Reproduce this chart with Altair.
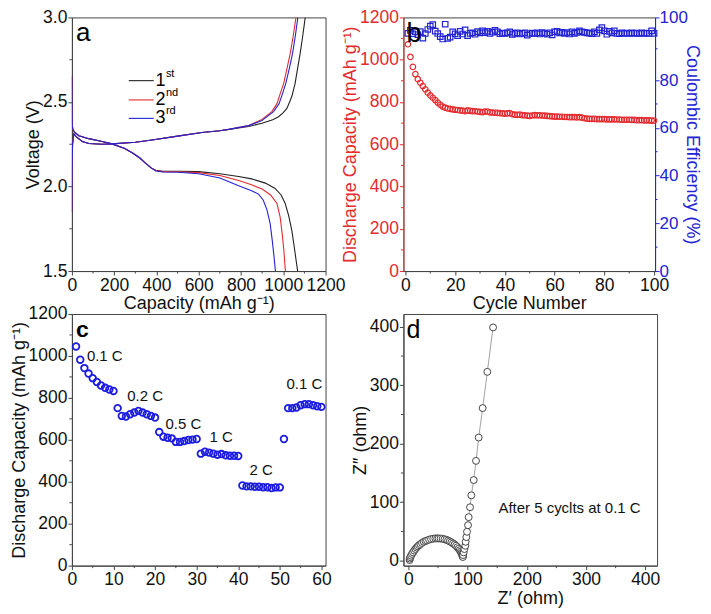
import altair as alt
import pandas as pd

FONT = "Liberation Sans"
BLACK = "#222222"
RED = "#e32b30"
BLUE = "#2424d4"
CBLUE = "#1c1ce0"
AXC = "#444444"

# ---------------- (a) voltage profiles ----------------
dis1_cap = [0, 0.5, 1.5, 5, 15, 33, 80, 143, 190, 250, 287, 320, 348, 375, 397, 430, 500, 600, 700, 789, 850, 915, 960, 990, 1009, 1025, 1040, 1050, 1060, 1068]
dis1_v = [2.65, 2.5, 2.36, 2.335, 2.318, 2.30, 2.283, 2.266, 2.252, 2.225, 2.198, 2.17, 2.138, 2.11, 2.096, 2.09, 2.09, 2.088, 2.075, 2.059, 2.045, 2.02, 1.99, 1.95, 1.90, 1.83, 1.744, 1.66, 1.57, 1.5]
dis2_cap = [0, 0.5, 1.5, 5, 15, 33, 80, 143, 190, 250, 287, 320, 348, 375, 397, 430, 500, 600, 700, 789, 850, 900, 940, 970, 985, 995, 1003, 1010]
dis2_v = [2.65, 2.5, 2.36, 2.335, 2.318, 2.30, 2.283, 2.266, 2.252, 2.225, 2.198, 2.17, 2.138, 2.11, 2.094, 2.088, 2.087, 2.082, 2.065, 2.035, 2.01, 1.985, 1.95, 1.90, 1.82, 1.72, 1.62, 1.5]
dis3_cap = [0, 0.5, 1.5, 5, 15, 33, 80, 143, 190, 250, 287, 320, 348, 375, 397, 430, 500, 600, 700, 789, 850, 883, 905, 923, 938, 948, 955, 963]
dis3_v = [2.65, 2.5, 2.36, 2.335, 2.318, 2.30, 2.283, 2.266, 2.252, 2.225, 2.198, 2.17, 2.138, 2.11, 2.092, 2.086, 2.084, 2.075, 2.05, 2.004, 1.975, 1.955, 1.92, 1.862, 1.78, 1.68, 1.6, 1.5]

chg1_cap = [0, 1, 3, 9, 20, 49, 80, 143, 190, 300, 379, 500, 615, 700, 742, 836, 899, 950, 978, 1000, 1017, 1030, 1041, 1056, 1068, 1080, 1092, 1104]
chg1_v = [1.85, 2.1, 2.25, 2.311, 2.295, 2.266, 2.254, 2.25, 2.252, 2.262, 2.275, 2.298, 2.319, 2.33, 2.338, 2.355, 2.374, 2.395, 2.413, 2.437, 2.462, 2.50, 2.535, 2.61, 2.70, 2.787, 2.89, 3.0]
chg2_cap = [0, 1, 3, 9, 20, 49, 80, 143, 190, 300, 379, 500, 615, 700, 742, 836, 899, 946, 970, 986, 1002, 1018, 1033, 1047, 1060]
chg2_v = [1.85, 2.1, 2.25, 2.311, 2.295, 2.266, 2.254, 2.25, 2.252, 2.262, 2.275, 2.298, 2.319, 2.33, 2.338, 2.36, 2.397, 2.443, 2.49, 2.551, 2.61, 2.70, 2.787, 2.89, 3.0]
chg3_cap = [0, 1, 3, 9, 20, 49, 80, 143, 190, 300, 379, 500, 615, 700, 742, 836, 899, 954, 980, 997, 1012, 1029, 1044, 1057, 1069]
chg3_v = [1.85, 2.1, 2.25, 2.311, 2.295, 2.266, 2.254, 2.25, 2.252, 2.262, 2.275, 2.298, 2.319, 2.33, 2.338, 2.36, 2.39, 2.443, 2.49, 2.551, 2.61, 2.70, 2.787, 2.89, 3.0]

cycle_names = ["1st", "2nd", "3rd"]
cycle_colors = [BLACK, RED, BLUE]
leg_num = ["1", "2", "3"]
leg_sup = ["st", "nd", "rd"]
leg_v = [2.626, 2.512, 2.403]

# ---------------- (b) cycling ----------------
cycles_b = list(range(1, 101))
cap_b = [1073, 1013, 966, 932, 908, 891, 875, 860, 844, 831,
         820, 809, 797, 787, 778, 773, 769, 767, 765, 763,
         762, 760, 759, 757, 760, 758, 757, 756, 755, 753,
         752, 754, 755, 751, 750, 749, 748, 747, 746, 745,
         746, 747, 742, 740, 739, 740, 738, 737, 735, 734,
         736, 738, 737, 737, 736, 735, 734, 733, 732, 731,
         731, 730, 730, 729, 729, 728, 728, 728, 727, 728,
         726, 723, 721, 720, 720, 720, 719, 719, 719, 719,
         718, 718, 718, 718, 717, 717, 716, 716, 716, 716,
         715, 715, 714, 714, 714, 713, 713, 713, 712, 712]
ce_b = [99.6, 100.8, 99.4, 100.2, 99.0, 100.3, 97.6, 99.5, 101.2, 102.6,
        103.2, 100.5, 99.5, 98.2, 97.2, 103.4, 97.5, 98.0, 100.2, 99.4,
        98.6, 100.4, 99.3, 101.0, 98.6, 99.6, 99.8, 99.2, 100.3, 99.8,
        100.6, 99.9, 100.4, 99.5, 100.1, 100.8, 100.2, 99.4, 99.7, 99.6,
        99.8, 100.2, 99.1, 99.6, 99.8, 99.3, 99.6, 99.8, 98.8, 99.5,
        99.7, 99.5, 99.8, 99.3, 99.9, 99.6, 99.2, 99.8, 98.9, 100.2,
        100.4, 99.8, 100.0, 99.5, 99.9, 99.3, 100.2, 99.6, 100.0, 100.6,
        100.2, 100.0, 99.8, 99.7, 99.4, 100.2, 99.6, 101.0, 102.0, 100.6,
        99.2, 100.4, 99.8, 100.6, 99.6, 99.4, 99.8, 99.5, 99.7, 99.5,
        99.8, 99.6, 99.7, 99.5, 99.8, 99.6, 99.7, 99.6, 100.6, 99.6]

# ---------------- (c) rate capability ----------------
cycles_c = list(range(1, 61))
cap_c = [1045, 982, 942, 916, 894, 876, 859, 848, 840, 833,
         751, 714, 711, 722, 730, 738, 730, 722, 714, 706,
         637, 615, 610, 607, 590, 590, 594, 599, 601, 604,
         534, 543, 539, 534, 529, 532, 526, 524, 524, 523,
         382, 378, 378, 376, 376, 374, 374, 370, 373, 373,
         604, 751, 751, 754, 765, 770, 770, 765, 760, 757]
rate_text = ["0.1 C", "0.2 C", "0.5 C", "1 C", "2 C", "0.1 C"]
rate_x = [3.6, 13.3, 22.5, 33.1, 42.7, 51.6]
rate_y = [999, 808, 675, 615, 457, 864]

# ---------------- (d) Nyquist ----------------
z_re = [2.0, 2.4, 3.2, 4.5, 6.0, 7.9, 9.8, 11.8, 13.8, 15.8, 18.0, 20.3, 23.0, 25.9, 28.7, 31.5, 34.9, 38.3,
        42.0, 45.6, 48.5, 51.2, 54.5, 57.9, 61.0, 64.1, 67.0, 69.8, 72.6, 75.4, 78.0, 80.5, 82.8, 84.9,
        86.7, 88.3, 89.6, 90.6, 91.3, 91.7, 92.0, 92.3, 93.4, 94.5, 96.1, 96.7, 97.9, 99.0, 100.7, 101.8,
        104.1, 106.3, 110.3, 114.2, 118.7, 125.4, 133.3, 143.0]
z_im = [1.0, 3.5, 6.0, 8.5, 11.5, 14.2, 17.2, 19.9, 22.3, 24.4, 26.5, 28.4, 30.4, 32.3, 33.6, 34.6, 35.9, 36.9,
        37.6, 38.0, 38.1, 38.0, 37.8, 37.4, 36.6, 35.7, 34.4, 32.9, 31.3, 29.5, 27.6, 25.5, 23.0, 20.4,
        17.9, 15.3, 13.0, 10.8, 9.0, 7.4, 6.2, 9.6, 14.2, 19.9, 25.5, 32.3, 40.3, 49.4, 60.7, 74.4,
        91.4, 111.8, 137.9, 170.7, 210.6, 261.0, 323.0, 399.0]

# minor tick positions
minor_a_x = [100, 300, 500, 700, 900, 1100]
minor_a_y = [1.75, 2.25, 2.75]
minor_b_x = [10, 30, 50, 70, 90]
minor_b_yl = [100, 300, 500, 700, 900, 1100]
minor_b_yr = [10, 30, 50, 70, 93.1]
minor_c_x = [5, 15, 25, 35, 45, 55]
minor_c_y = [100, 300, 500, 700, 900, 1100]
minor_d = [50, 150, 250, 350]

# ================= build tables =================
segs = []
for name, cap, v in [("1st", dis1_cap, dis1_v), ("1st", chg1_cap, chg1_v),
                     ("2nd", dis2_cap, dis2_v), ("2nd", chg2_cap, chg2_v),
                     ("3rd", dis3_cap, dis3_v), ("3rd", chg3_cap, chg3_v)]:
    sid = len(segs)
    segs.append(pd.DataFrame({"cap": cap, "v": v, "cycle": name, "seg": sid, "ord": range(len(cap))}))
df_a = pd.concat(segs, ignore_index=True)
df_leg = pd.DataFrame({"x0": [269] * 3, "x1": [387] * 3, "xt": [395] * 3, "v": leg_v,
                       "cycle": cycle_names, "num": leg_num, "sup": leg_sup})
df_b = pd.DataFrame({"cycle": cycles_b, "cap": cap_b, "ce": ce_b})
df_c = pd.DataFrame({"cycle": cycles_c, "cap": cap_c})
df_rate = pd.DataFrame({"x": rate_x, "y": rate_y, "t": rate_text})
df_d = pd.DataFrame({"re": z_re, "im": z_im, "ord": range(len(z_re))})
df_dtext = pd.DataFrame({"x": [152], "y": [90], "t": ["After 5 cyclts at 0.1 C"]})

XAX = dict(tickSize=4, labelPadding=1, titlePadding=1)
YAX = dict(tickSize=4, labelPadding=1, titlePadding=0)
MT = 2.5  # minor tick length


def letter(ch, x, y, size, weight="normal"):
    return alt.Chart(pd.DataFrame({"t": [ch]})).mark_text(
        align="left", baseline="alphabetic", fontSize=size, font=FONT, fontWeight=weight, color="#000"
    ).encode(text="t:N", x=alt.value(x), y=alt.value(y))


def minor_x(vals, scale, axis, h, color=AXC):
    # shares the panel's x scale and (identical) axis so the axes merge
    return alt.Chart(pd.DataFrame({"m": vals})).mark_rule(color=color, strokeWidth=1).encode(
        x=alt.X("m:Q", scale=scale, axis=axis),
        y=alt.value(h), y2=alt.value(h + MT))


def minor_y(vals, scale, axis, x0, sign, color=AXC):
    return alt.Chart(pd.DataFrame({"m": vals})).mark_rule(color=color, strokeWidth=1).encode(
        y=alt.Y("m:Q", scale=scale, axis=axis),
        x=alt.value(x0), x2=alt.value(x0 + sign * MT))


# ---------------- panel a ----------------
WA, HA = 254, 254
sc_ax = alt.Scale(domain=[0, 1200], nice=False, zero=False)
sc_ay = alt.Scale(domain=[1.5, 3.0], nice=False, zero=False)
ax_ax = alt.Axis(values=list(range(0, 1201, 200)), format="d", title="Capacity (mAh g⁻¹)", **XAX)
ax_ay = alt.Axis(values=[1.5, 2.0, 2.5, 3.0], format=".1f", title="Voltage (V)", **YAX)
col_a = alt.Color("cycle:N", scale=alt.Scale(domain=cycle_names, range=cycle_colors), legend=None)
lines_a = alt.Chart(df_a).mark_line(strokeWidth=1.1, clip=True).encode(
    x=alt.X("cap:Q", scale=sc_ax, axis=ax_ax), y=alt.Y("v:Q", scale=sc_ay, axis=ax_ay),
    color=col_a, detail="seg:N", order="ord:Q")
leg_lines = alt.Chart(df_leg).mark_rule(strokeWidth=1.1).encode(
    x=alt.X("x0:Q", scale=sc_ax, axis=ax_ax), x2="x1:Q", y=alt.Y("v:Q", scale=sc_ay, axis=ax_ay), color=col_a)
leg_num_t = alt.Chart(df_leg).mark_text(align="left", baseline="middle", fontSize=18, font=FONT, color="#000").encode(
    x=alt.X("xt:Q", scale=sc_ax, axis=ax_ax), y=alt.Y("v:Q", scale=sc_ay, axis=ax_ay), text="num:N")
leg_sup_t = alt.Chart(df_leg).mark_text(align="left", baseline="middle", fontSize=11, font=FONT, color="#000",
                                        dx=10.5, dy=-7).encode(
    x=alt.X("xt:Q", scale=sc_ax, axis=ax_ax), y=alt.Y("v:Q", scale=sc_ay, axis=ax_ay), text="sup:N")
panel_a = alt.layer(
    lines_a, leg_lines, leg_num_t, leg_sup_t,
    minor_x(minor_a_x, sc_ax, ax_ax, HA), minor_y(minor_a_y, sc_ay, ax_ay, 0, -1),
    letter("a", 4, 24, 26)
).properties(width=WA, height=HA)

# ---------------- panel b ----------------
WB, HB = 252, 254
sc_bx = alt.Scale(domain=[-0.8, 100.4], nice=False, zero=False)
sc_byl = alt.Scale(domain=[0, 1200], nice=False, zero=False)
sc_byr = alt.Scale(domain=[0, 106.25], nice=False, zero=False)
ax_bx = alt.Axis(values=[0, 20, 40, 60, 80, 100], format="d", title="Cycle Number", **XAX)
red_pts = alt.Chart(df_b).mark_point(shape="circle", filled=False, color=RED, size=30, strokeWidth=1.2, opacity=1).encode(
    x=alt.X("cycle:Q", scale=sc_bx, axis=ax_bx),
    y=alt.Y("cap:Q", scale=sc_byl,
            axis=alt.Axis(orient="left", values=list(range(0, 1201, 200)), format="d",
                          title="Discharge Capacity (mAh g⁻¹)",
                          labelColor=RED, titleColor=RED, domainColor=RED, tickColor=RED, **YAX)))
blue_pts = alt.Chart(df_b).mark_point(shape="square", filled=False, color=BLUE, size=30, strokeWidth=1.2, opacity=1).encode(
    x=alt.X("cycle:Q", scale=sc_bx, axis=ax_bx),
    y=alt.Y("ce:Q", scale=sc_byr,
            axis=alt.Axis(orient="right", values=[0, 20, 40, 60, 80, 106.25],
                          labelExpr="datum.value > 100 ? '100' : datum.label",
                          title="Coulombic Efficiency (%)", labelFontSize=17,
                          labelColor=BLUE, titleColor=BLUE, domainColor=BLUE, tickColor=BLUE,
                          tickSize=4, labelPadding=0, titlePadding=-5)))
panel_b = alt.layer(
    red_pts, blue_pts,
    minor_x(minor_b_x, sc_bx, ax_bx, HB),
    minor_y(minor_b_yl, sc_byl, None, 0, -1, RED),
    minor_y(minor_b_yr, sc_byr, None, WB, 1, BLUE),
    letter("b", 3, 25, 27)
).resolve_scale(y="independent").properties(width=WB, height=HB)

# ---------------- panel c ----------------
WC, HC = 254, 252
sc_cx = alt.Scale(domain=[0, 61], nice=False, zero=False)
sc_cy = alt.Scale(domain=[0, 1200], nice=False, zero=False)
ax_cx = alt.Axis(values=list(range(0, 61, 10)), format="d", title=None, **XAX)
ax_cy = alt.Axis(values=list(range(0, 1201, 200)), format="d", title="Discharge Capacity (mAh g⁻¹)", **YAX)
pts_c = alt.Chart(df_c).mark_point(shape="circle", filled=False, color=CBLUE, size=44, strokeWidth=1.8, opacity=1).encode(
    x=alt.X("cycle:Q", scale=sc_cx, axis=ax_cx), y=alt.Y("cap:Q", scale=sc_cy, axis=ax_cy))
rate_t = alt.Chart(df_rate).mark_text(align="left", baseline="middle", fontSize=15, font=FONT, color="#111").encode(
    x=alt.X("x:Q", scale=sc_cx, axis=ax_cx), y=alt.Y("y:Q", scale=sc_cy, axis=ax_cy), text="t:N")
panel_c = alt.layer(
    pts_c, rate_t,
    minor_x(minor_c_x, sc_cx, ax_cx, HC), minor_y(minor_c_y, sc_cy, ax_cy, 0, -1),
    letter("c", 4, 23, 23, "bold")
).properties(width=WC, height=HC)

# ---------------- panel d ----------------
WD, HD = 254, 252
sc_dx = alt.Scale(domain=[-8.4, 420], nice=False, zero=False)
sc_dy = alt.Scale(domain=[-8.5, 422], nice=False, zero=False)
ax_dx = alt.Axis(values=[0, 100, 200, 300, 400], format="d", title="Z′ (ohm)", **XAX)
ax_dy = alt.Axis(values=[0, 100, 200, 300, 400], format="d", title="Z″ (ohm)", **YAX)
line_d = alt.Chart(df_d).mark_line(color="#8a8a8a", strokeWidth=0.8).encode(
    x=alt.X("re:Q", scale=sc_dx, axis=ax_dx), y=alt.Y("im:Q", scale=sc_dy, axis=ax_dy), order="ord:Q")
pts_d = alt.Chart(df_d).mark_point(shape="circle", filled=True, fill="white", stroke="#333", size=48,
                                   strokeWidth=0.9, opacity=1).encode(
    x=alt.X("re:Q", scale=sc_dx, axis=ax_dx), y=alt.Y("im:Q", scale=sc_dy, axis=ax_dy))
text_d = alt.Chart(df_dtext).mark_text(align="left", baseline="middle", fontSize=15, font=FONT, color="#111").encode(
    x=alt.X("x:Q", scale=sc_dx, axis=ax_dx), y=alt.Y("y:Q", scale=sc_dy, axis=ax_dy), text="t:N")
panel_d = alt.layer(
    line_d, pts_d, text_d,
    minor_x(minor_d, sc_dx, ax_dx, HD), minor_y(minor_d, sc_dy, ax_dy, 0, -1),
    letter("d", 3, 24, 25)
).properties(width=WD, height=HD)

chart = alt.concat(panel_a, panel_b, panel_c, panel_d, columns=2,
                   spacing={"row": 43, "column": 78}, bounds="flush").properties(
    padding={"left": 1, "top": -1, "right": 2, "bottom": 0}
).configure_axis(
    labelFont=FONT, titleFont=FONT, labelFontSize=17.5, titleFontSize=18, titleFontWeight="normal",
    labelColor="#111", titleColor="#111", domainColor=AXC, tickColor=AXC, grid=False,
    labelFlush=False, labelOverlap=False
).configure_view(stroke=AXC, strokeWidth=1)

chart.save("out.html", embed_options={"renderer": "svg", "actions": False})
